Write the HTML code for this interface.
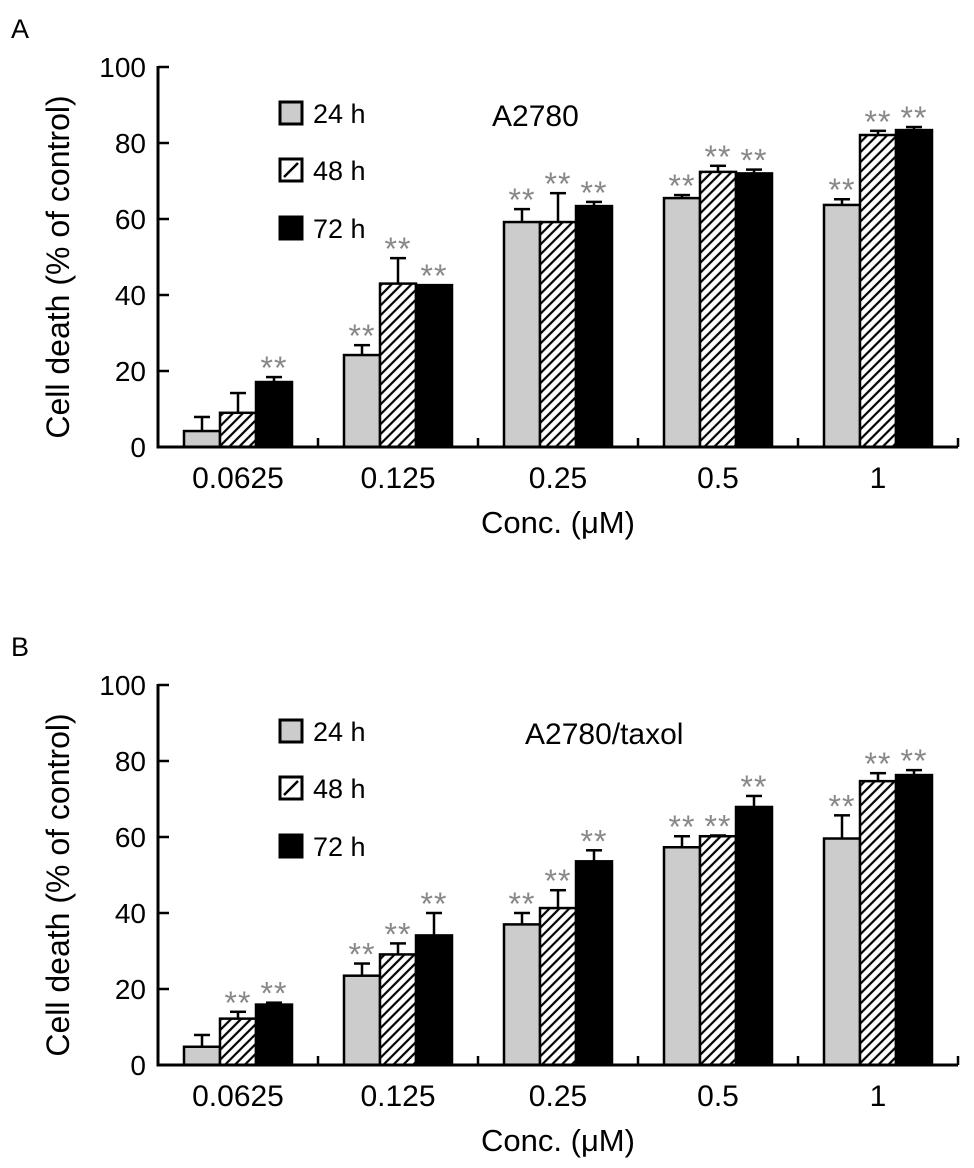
<!DOCTYPE html>
<html><head><meta charset="utf-8"><style>
html,body{margin:0;padding:0;background:#fff;}
svg{display:block;font-family:"Liberation Sans",Arial,sans-serif;}
</style></head><body>
<svg id="fig" width="974" height="1168" viewBox="0 0 974 1168" xmlns="http://www.w3.org/2000/svg">
<defs>
<pattern id="hatch" patternUnits="userSpaceOnUse" width="7" height="7" patternTransform="rotate(45)">
<rect width="7" height="7" fill="#fff"/><line x1="2" y1="0" x2="2" y2="7" stroke="#000" stroke-width="2.2"/>
</pattern>
</defs>
</svg>
<script>
const categories = ["0.0625","0.125","0.25","0.5","1"];
const seriesNames = ["24 h","48 h","72 h"];
const yTicks = [0,20,40,60,80,100];
// Panel A (A2780)
const a24 = [4.2,24.2,59.2,65.5,63.7];
const a48 = [9,43,59.2,72.4,82.1];
const a72 = [17.1,42.6,63.4,72,83.4];
const a24err = [3.7,2.6,3.4,0.8,1.5];
const a48err = [5.2,6.7,7.6,1.6,1.1];
const a72err = [1.3,0,1.1,1,0.8];
const a24sig = [0,1,1,1,1];
const a48sig = [0,1,1,1,1];
const a72sig = [1,1,1,1,1];
// Panel B (A2780/taxol)
const b24 = [4.8,23.5,37,57.3,59.6];
const b48 = [12.2,29.1,41.3,60.2,74.7];
const b72 = [15.9,34.1,53.6,67.9,76.3];
const b24err = [3.1,3.2,3,2.9,6.1];
const b48err = [1.8,2.9,4.7,0.2,2.1];
const b72err = [0.5,5.9,2.9,2.9,1.3];
const b24sig = [0,1,1,1,1];
const b48sig = [1,1,1,1,1];
const b72sig = [1,1,1,1,1];

const NS = "http://www.w3.org/2000/svg";
const svg = document.getElementById('fig');
function mk(tag, attrs, parent, text){
  const e = document.createElementNS(NS, tag);
  for (const k in attrs) e.setAttribute(k, attrs[k]);
  if (text !== undefined) e.textContent = text;
  (parent||svg).appendChild(e);
  return e;
}
const fills = ["#cccccc","url(#hatch)","#000000"];

function panel(off, letter, title, titleX, vals, errs, sigs, key){
  const g = mk('g', {});
  
  
  const x0 = 158, x1 = 958, y0 = 447 + off, yTop = 67 + off;
  const catW = (x1 - x0) / categories.length;
  const yScale = v => y0 - (v / 100) * (y0 - yTop);
  const xCenter = i => x0 + catW * (i + 0.5);
  const barW = 36;

  const lt = mk('text', {x: 11, y: 38 + off, 'font-size': 27, fill: '#000'}, g, letter);
  
  

  for (let s = 0; s < 3; s++){
    for (let i = 0; i < categories.length; i++){
      const v = vals[s][i], e = errs[s][i];
      const bx = xCenter(i) + (s - 1.5) * barW;
      const top = yScale(v), eTop = yScale(v + e);
      const cx = bx + barW / 2;
      if (e > 0){
        const el = mk('line', {x1: cx, y1: top, x2: cx, y2: eTop, stroke: '#000', 'stroke-width': 2.5}, g);
        
        
        const cap = mk('line', {x1: cx - 8, y1: eTop, x2: cx + 8, y2: eTop, stroke: '#000', 'stroke-width': 2.5}, g);
        
        
      }
      const r = mk('rect', {x: bx, y: top, width: barW, height: y0 - top, fill: fills[s], stroke: '#000', 'stroke-width': 2.5}, g);
      
      
      if (sigs[s][i]){
        const st = mk('text', {x: cx, y: eTop + 2, 'font-size': 32, fill: '#888', 'text-anchor': 'middle', 'letter-spacing': '1'}, g, '**');
        
        
      }
    }
  }
  const ya = mk('line', {x1: x0, y1: yTop - 1, x2: x0, y2: y0 + 1.5, stroke: '#000', 'stroke-width': 3}, g);
  
  
  const xa = mk('line', {x1: x0 - 1.5, y1: y0, x2: x1, y2: y0, stroke: '#000', 'stroke-width': 3}, g);
  
  
  yTicks.forEach(t => {
    const y = yScale(t);
    if (t > 0){
      const tk = mk('line', {x1: x0, y1: y, x2: x0 + 11, y2: y, stroke: '#000', 'stroke-width': 2.5}, g);
      
      
    }
    const tl = mk('text', {x: 146, y: y + 10, 'font-size': 28, 'text-anchor': 'end', fill: '#000'}, g, String(t));
    
    
  });
  for (let i = 1; i <= categories.length; i++){
    const x = x0 + catW * i;
    const tk = mk('line', {x1: x, y1: y0, x2: x, y2: y0 - 9, stroke: '#000', 'stroke-width': 2.5}, g);
    
    
  }
  categories.forEach((c, i) => {
    const tl = mk('text', {x: xCenter(i), y: y0 + 41, 'font-size': 30, 'text-anchor': 'middle', fill: '#000'}, g, c);
    
    
  });
  const xt = mk('text', {x: 558, y: y0 + 86, 'font-size': 31, 'text-anchor': 'middle', fill: '#000'}, g, 'Conc. (\u03bcM)');
  
  
  const yc = 267 + off;
  const yt = mk('text', {x: 69, y: yc, 'font-size': 32, 'text-anchor': 'middle', fill: '#000', transform: 'rotate(-90 69 ' + yc + ')'}, g, 'Cell death (% of control)');
  
  
  const ly = [113, 170, 228];
  for (let s = 0; s < 3; s++){
    const lg = mk('g', {}, g);
    
    
    const cy = ly[s] + off;
    mk('rect', {x: 280, y: cy - 11, width: 22, height: 22, fill: s === 1 ? '#fff' : fills[s], stroke: '#000', 'stroke-width': 3}, lg);
    if (s === 1) mk('line', {x1: 284, y1: cy + 7, x2: 298, y2: cy - 7, stroke: '#000', 'stroke-width': 2.5}, lg);
    mk('text', {x: 313, y: cy + 10, 'font-size': 27, fill: '#000'}, lg, seriesNames[s]);
  }
  const tt = mk('text', {x: titleX, y: 126 + off, 'font-size': 30, fill: '#000'}, g, title);
  
  
}
panel(0, 'A', 'A2780', 492, [a24, a48, a72], [a24err, a48err, a72err], [a24sig, a48sig, a72sig], 'a');
panel(618, 'B', 'A2780/taxol', 525, [b24, b48, b72], [b24err, b48err, b72err], [b24sig, b48sig, b72sig], 'b');
</script>
</body></html>
